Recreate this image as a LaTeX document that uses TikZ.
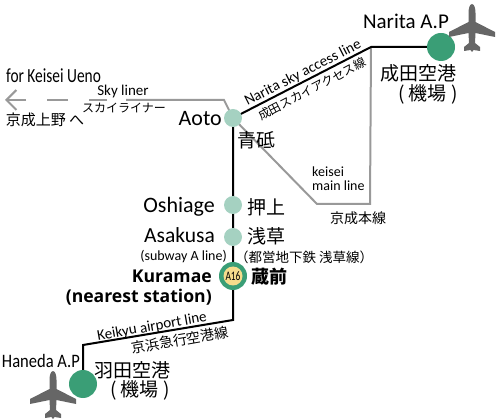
\documentclass[tikz,border=0pt]{standalone}
\usepackage{fontspec}
\setmainfont{Carlito}
\newfontfamily\boldlat{Open Sans}
\newfontfamily\jp{Noto Sans CJK JP}
\usetikzlibrary{arrows.meta}

\definecolor{lineGray}{HTML}{999999}
\definecolor{stopGreen}{HTML}{A5D1C1}
\definecolor{portGreen}{HTML}{3A9E76}
\definecolor{planeGray}{HTML}{666666}
\definecolor{badgeYellow}{HTML}{F5DC8C}

\tikzset{
    stop/.style={circle,fill=stopGreen,inner sep=0pt,minimum size=18pt},
    port/.style={circle,fill=portGreen,inner sep=0pt,minimum size=28pt},
    main/.style={draw=black,line width=2pt},
    grayline/.style={draw=lineGray,line width=2pt},
    en/.style={inner sep=0pt,font=\fontsize{#1}{#1}\selectfont},
    ja/.style={inner sep=0pt,font=\jp\fontsize{#1}{#1}\selectfont},
    plane/.pic={
        \fill[planeGray] (0,0) .. controls (2.5,0) and (3.5,5) .. (3.5,9)
            -- (3.5,18) -- (23,28) -- (23,33) -- (3.5,29) -- (3,39) -- (8,43) -- (8,47)
            -- (1.5,46) -- (0,48) -- (-1.5,46) -- (-8,47) -- (-8,43) -- (-3,39) -- (-3.5,29)
            -- (-23,33) -- (-23,28) -- (-3.5,18) -- (-3.5,9)
            .. controls (-3.5,5) and (-2.5,0) .. (0,0) -- cycle;
    }
}

\begin{document}
\begin{tikzpicture}[x=1pt,y=-1pt]
        \useasboundingbox (0,0) rectangle (500,419);

        % --- 1. Bends of the lines ---
        \coordinate (NaritaBend) at (371,47);
        \coordinate (MainBendA) at (317,204);
        \coordinate (MainBendB) at (370,204);
        \coordinate (SkyBend) at (224,100);
        \coordinate (SkySolid) at (126,100);
        \coordinate (SkyDash) at (107,100);
        \coordinate (UenoTip) at (5,100);
        \coordinate (KeikyuBendA) at (233,320);
        \coordinate (KeikyuBendB) at (83,345);

        % --- 2. Stations ---
        \coordinate (AotoC) at (233,118);
        \coordinate (NaritaC) at (441,47);
        \coordinate (HanedaC) at (83,384);
        \coordinate (KuramaeC) at (233,276);

        % --- 3. Lines ---
        \draw[grayline] (AotoC) -- (MainBendA) -- (MainBendB) -- (NaritaBend);
        \draw[grayline] (AotoC) -- (SkyBend) -- (SkySolid);
        \draw[grayline,dash pattern=on 18pt off 21pt on 21pt off 21pt on 21pt,-{Straight Barb[length=10pt,width=20pt]}] (SkyDash) -- (UenoTip);
        \draw[main] (AotoC) -- (NaritaBend) -- (NaritaC);
        \draw[main] (AotoC) -- (KeikyuBendA) -- (KeikyuBendB) -- (HanedaC);

        % --- 4. Stops ---
        \node[stop] (Aoto) at (AotoC) {};
        \node[stop] (Oshiage) at (233,205) {};
        \node[stop] (Asakusa) at (233,237) {};
        \node[port] (Kuramae) at (KuramaeC) {};
        \node[circle,fill=badgeYellow,inner sep=0pt,minimum size=19pt] (Badge) at (KuramaeC) {};
        \node[en=13,xscale=0.72] (BadgeNo) at (KuramaeC) {A16};
        \node[port] (Narita) at (NaritaC) {};
        \node[port] (Haneda) at (HanedaC) {};

        % --- 5. Planes ---
        \pic at (472,4) {plane};
        \pic at (53,371) {plane};

        % --- 6. Skyliner labels ---
        \node[en=20,xscale=0.77,anchor=west] (ForUeno) at (6,76) {for Keisei Ueno};
        \node[en=15] (SkyEn) at (123,92) {Sky liner};
        \node[ja=12] (SkyJa) at (124,108) {スカイライナー};
        \node[ja=15] (UenoJa) at (45,120) {京成上野 へ};

        % --- 7. Access and main line labels ---
        \node[en=15,rotate=27] (AccessEn) at (303,73) {Narita sky access line};
        \node[ja=12,rotate=27.5] (AccessJa) at (312,89) {成田スカイアクセス線};
        \node[en=14,anchor=west,align=left] (KeiseiEn) at (312,179) {keisei\\main line};
        \node[ja=14] (KeiseiJa) at (358,218) {京成本線};

        % --- 8. Station labels ---
        \node[en=22,anchor=east] (AotoEn) at (222,119) {Aoto};
        \node[ja=19] (AotoJa) at (256,140) {青砥};
        \node[en=22,anchor=east] (OshiageEn) at (215,207) {Oshiage};
        \node[ja=19] (OshiageJa) at (266,207) {押上};
        \node[en=21.5,anchor=east] (AsakusaEn) at (215,235) {Asakusa};
        \node[ja=19] (AsakusaJa) at (266,236) {浅草};
        \node[en=14,anchor=east] (SubwayEn) at (227,257) {(subway A line)};
        \node[ja=13.5,anchor=west] (SubwayJa) at (235,257) {（都営地下鉄 浅草線）};
        \node[anchor=east,align=right,inner sep=0pt,font=\boldlat\bfseries\fontsize{17.6}{20}\selectfont] (KuramaeEn) at (212,288) {Kuramae\\(nearest station)};
        \node[inner sep=0pt,font=\jp\bfseries\fontsize{18}{18}\selectfont] (KuramaeJa) at (269,277) {蔵前};

        % --- 9. Keikyu and airports ---
        \node[en=15,rotate=10] (KeikyuEn) at (152,327) {Keikyu airport line};
        \node[ja=14,rotate=10] (KeikyuJa) at (180,340) {京浜急行空港線};
        \node[en=19,xscale=0.87,anchor=east] (HanedaEn) at (80,361) {Haneda A.P};
        \node[ja=19] (HanedaJa) at (132,370) {羽田空港};
        \node[ja=19] (HanedaJb) at (140,390) {( 機場 )};
        \node[en=21] (NaritaEn) at (406,21) {Narita A.P};
        \node[ja=19] (NaritaJa) at (418,73) {成田空港};
        \node[ja=19] (NaritaJb) at (428,94) {( 機場 )};

    \end{tikzpicture}
\end{document}
